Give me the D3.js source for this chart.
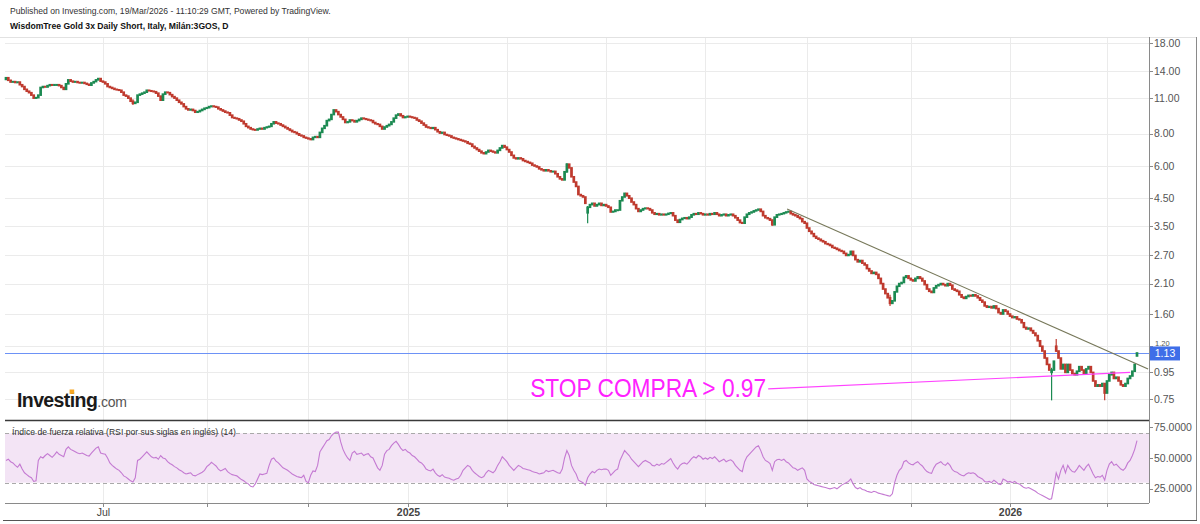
<!DOCTYPE html>
<html><head><meta charset="utf-8">
<script src="https://cdn.jsdelivr.net/npm/d3@7"></script>
<style>body{margin:0;background:#fff}svg{display:block}text{font-family:"Liberation Sans",Arial,sans-serif}</style>
</head><body><svg id="c" width="1200" height="524"></svg>
<script>
// ---------- DATA ----------
const startDate = "2024-05-02";
const endDate = "2026-03-19";
const opens = [
13.0,13.2,12.9,12.7,12.75,12.65,12.7,12.4,12.2,11.9,11.7,11.55,11.3,11.0,11.05,11.3,12.1,12.2,12.15,12.3,12.4,12.35,
12.4,12.4,12.3,12.1,11.9,12.5,12.95,12.8,12.7,12.75,12.65,12.6,12.65,12.55,12.45,12.35,12.6,12.75,12.95,13.1,
12.8,12.7,12.5,12.2,12.1,12.0,11.9,11.85,11.8,11.6,11.3,11.2,11.0,10.7,10.5,10.6,11.3,11.4,11.5,11.6,11.8,11.75,11.7,
11.65,11.5,11.2,10.8,11.4,11.6,11.55,11.35,11.15,11.0,10.8,10.6,10.45,10.2,10.0,9.9,9.95,9.85,9.7,9.75,9.85,9.95,
10.05,10.1,10.2,10.25,10.2,10.15,10.0,9.9,9.8,9.7,9.65,9.45,9.25,9.2,9.15,9.05,8.95,8.75,8.55,8.45,8.35,
8.3,8.28,8.35,8.4,8.35,8.45,8.5,8.55,8.75,8.9,8.8,8.75,8.65,8.55,8.45,8.35,8.25,8.15,8.1,8.0,7.9,7.85,7.75,
7.7,7.65,7.6,7.75,7.8,7.75,8.1,8.4,8.6,9.0,9.1,9.5,9.9,9.75,9.5,9.3,9.1,8.85,8.9,9.05,9.0,
8.9,9.0,9.1,9.2,9.15,9.1,9.05,9.0,8.85,8.75,8.7,8.55,8.35,8.5,8.6,8.7,8.9,9.2,9.45,9.55,9.4,9.25,
9.3,9.35,9.3,9.25,9.2,9.05,8.95,8.8,8.65,8.5,8.45,8.4,8.45,8.3,8.15,8.05,8.1,7.95,7.9,7.85,7.75,7.7,7.65,
7.6,7.55,7.5,7.45,7.35,7.3,7.15,7.05,6.95,6.85,6.75,6.7,6.8,6.9,6.85,6.8,6.75,6.9,7.05,7.2,
7.1,6.95,6.8,6.6,6.45,6.4,6.45,6.4,6.3,6.25,6.2,6.15,6.05,6.0,5.95,5.85,5.8,5.75,5.8,5.75,5.7,
5.72,5.6,5.45,5.35,5.3,5.7,6.1,5.9,5.45,5.2,5.0,4.65,4.6,4.55,3.95,4.15,4.25,4.3,4.2,4.25,4.3,4.22,
4.25,4.2,4.15,3.98,4.0,4.05,4.05,4.4,4.55,4.7,4.6,4.5,4.35,4.25,4.1,4.0,4.05,4.1,4.12,4.1,4.05,3.95,
3.9,3.92,3.88,3.9,3.88,3.9,3.93,3.95,3.85,3.7,3.63,3.72,3.76,3.78,3.75,3.8,3.88,3.92,3.9,3.95,3.92,
3.88,3.9,3.88,3.92,3.9,3.95,3.9,3.85,3.88,3.9,3.85,3.88,3.9,3.85,3.78,3.7,3.62,3.6,3.8,3.9,3.95,3.98,4.02,
4.05,4.08,4.0,3.85,3.78,3.75,3.7,3.55,3.8,3.88,3.9,3.92,3.95,3.98,4.0,3.92,3.88,3.85,3.8,3.75,3.65,
3.6,3.45,3.35,3.28,3.2,3.15,3.12,3.08,3.05,3.0,2.98,2.95,2.9,2.88,2.85,2.82,2.8,2.75,2.7,2.72,2.8,2.7,
2.6,2.55,2.58,2.52,2.48,2.4,2.35,2.3,2.32,2.28,2.2,2.1,2.0,1.92,1.85,1.76,1.8,1.95,2.05,2.1,2.12,2.22,2.25,
2.2,2.17,2.15,2.2,2.23,2.2,2.15,2.08,2.0,1.96,1.94,2.02,2.06,2.08,2.1,2.08,2.06,2.1,2.07,2.0,
1.98,1.96,1.9,1.86,1.84,1.87,1.89,1.88,1.9,1.88,1.85,1.81,1.78,1.72,1.7,1.71,1.69,1.72,1.68,1.62,1.6,1.66,1.64,
1.6,1.57,1.55,1.56,1.53,1.52,1.48,1.42,1.4,1.41,1.38,1.35,1.32,1.26,1.2,1.15,1.08,1.02,0.95,0.97,1.2,1.15,
1.08,0.98,1.02,0.95,1.02,0.97,0.94,0.93,0.96,1.0,0.97,0.94,0.98,1.0,0.95,0.88,0.84,0.85,0.84,0.86,
0.79,0.88,0.93,0.95,0.9,0.91,0.88,0.85,0.84,0.86,0.9,0.92,0.96,1.1];
const closes = [
13.2,12.9,12.7,12.75,12.65,12.7,12.4,12.2,11.9,11.7,11.55,11.3,11.0,11.05,11.3,12.1,12.2,12.15,12.3,12.4,12.35,12.4,
12.4,12.3,12.1,11.9,12.5,12.95,12.8,12.7,12.75,12.65,12.6,12.65,12.55,12.45,12.35,12.6,12.75,12.95,13.1,12.8,
12.7,12.5,12.2,12.1,12.0,11.9,11.85,11.8,11.6,11.3,11.2,11.0,10.7,10.5,10.6,11.3,11.4,11.5,11.6,11.8,11.75,11.7,11.65,
11.5,11.2,10.8,11.4,11.6,11.55,11.35,11.15,11.0,10.8,10.6,10.45,10.2,10.0,9.9,9.95,9.85,9.7,9.75,9.85,9.95,10.05,
10.1,10.2,10.25,10.2,10.15,10.0,9.9,9.8,9.7,9.65,9.45,9.25,9.2,9.15,9.05,8.95,8.75,8.55,8.45,8.35,8.3,
8.28,8.35,8.4,8.35,8.45,8.5,8.55,8.75,8.9,8.8,8.75,8.65,8.55,8.45,8.35,8.25,8.15,8.1,8.0,7.9,7.85,7.75,7.7,
7.65,7.6,7.75,7.8,7.75,8.1,8.4,8.6,9.0,9.1,9.5,9.9,9.75,9.5,9.3,9.1,8.85,8.9,9.05,9.0,8.9,
9.0,9.1,9.2,9.15,9.1,9.05,9.0,8.85,8.75,8.7,8.55,8.35,8.5,8.6,8.7,8.9,9.2,9.45,9.55,9.4,9.25,9.3,
9.35,9.3,9.25,9.2,9.05,8.95,8.8,8.65,8.5,8.45,8.4,8.45,8.3,8.15,8.05,8.1,7.95,7.9,7.85,7.75,7.7,7.65,7.6,
7.55,7.5,7.45,7.35,7.3,7.15,7.05,6.95,6.85,6.75,6.7,6.8,6.9,6.85,6.8,6.75,6.9,7.05,7.2,7.1,
6.95,6.8,6.6,6.45,6.4,6.45,6.4,6.3,6.25,6.2,6.15,6.05,6.0,5.95,5.85,5.8,5.75,5.8,5.75,5.7,5.72,
5.6,5.45,5.35,5.3,5.7,6.1,5.9,5.45,5.2,5.0,4.65,4.6,4.55,4.3,4.15,4.25,4.3,4.2,4.25,4.3,4.22,4.25,
4.2,4.15,3.98,4.0,4.05,4.05,4.4,4.55,4.7,4.6,4.5,4.35,4.25,4.1,4.0,4.05,4.1,4.12,4.1,4.05,3.95,3.9,
3.92,3.88,3.9,3.88,3.9,3.93,3.95,3.85,3.7,3.63,3.72,3.76,3.78,3.75,3.8,3.88,3.92,3.9,3.95,3.92,3.88,
3.9,3.88,3.92,3.9,3.95,3.9,3.85,3.88,3.9,3.85,3.88,3.9,3.85,3.78,3.7,3.62,3.6,3.8,3.9,3.95,3.98,4.02,4.05,
4.08,4.0,3.85,3.78,3.75,3.7,3.55,3.8,3.88,3.9,3.92,3.95,3.98,4.0,3.92,3.88,3.85,3.8,3.75,3.65,3.6,
3.45,3.35,3.28,3.2,3.15,3.12,3.08,3.05,3.0,2.98,2.95,2.9,2.88,2.85,2.82,2.8,2.75,2.7,2.72,2.8,2.7,2.6,
2.55,2.58,2.52,2.48,2.4,2.35,2.3,2.32,2.28,2.2,2.1,2.0,1.92,1.85,1.76,1.8,1.95,2.05,2.1,2.12,2.22,2.25,2.2,
2.17,2.15,2.2,2.23,2.2,2.15,2.08,2.0,1.96,1.94,2.02,2.06,2.08,2.1,2.08,2.06,2.1,2.07,2.0,1.98,
1.96,1.9,1.86,1.84,1.87,1.89,1.88,1.9,1.88,1.85,1.81,1.78,1.72,1.7,1.71,1.69,1.72,1.68,1.62,1.6,1.66,1.64,1.6,
1.57,1.55,1.56,1.53,1.52,1.48,1.42,1.4,1.41,1.38,1.35,1.32,1.26,1.2,1.15,1.08,1.02,0.97,0.97,1.05,1.15,1.08,
0.98,1.02,0.95,1.02,0.97,0.94,0.93,0.96,1.0,0.97,0.94,0.98,1.0,0.95,0.88,0.84,0.85,0.84,0.86,0.79,
0.88,0.93,0.95,0.9,0.91,0.88,0.85,0.84,0.86,0.9,0.92,0.96,1.02,1.13];
// notable wicks: [index, high, low]
const wicks = [[55,10.9,10.35],[243,6.15,5.65],[252,4.2,3.6],[332,3.72,3.52],[383,1.9,1.72],[453,0.99,0.74],[455,1.28,1.14],[476,0.86,0.74]];
const rsi = [
48,49,47,46,44,42.5,45,41,38,36.5,35,34,31,31.5,48,51,50,52,53.5,52,50.5,52.5,
55,53,52,51,57,59,57,56,55,54,53.5,54,53,52,51.5,54,56,58,59,54,
53.5,53,50,46,44,42.5,41,40,38,35.5,34.5,33,31.5,30.5,34,48,49,51,53,55,53,51,50,
50.5,49,52,50,49.5,47,45.5,44.5,43,42,40.5,39.5,38,37,37.5,38,36,35.5,36.5,37.5,38.5,40,
43,44.5,46.5,45,43.5,41,39.5,40.5,41.5,39,37.5,36.5,36,35.5,34,32.5,31.5,30,29,27,26.5,
29,33,37,36.5,37,37.5,44,49,50,47.5,46,44,42,41,40,38.5,37,36,35,34.5,34,36,31,
30,36,39.5,39,44,55,58,61,64,65,68,70,71,71,63,57,53,50,48,54,55.5,
53,53.5,54,52,53,53.5,51,50,46,42,40,44,53,56,57,60,62,63.5,61,58,56,57,
55,54,52,51,49,47,46,44,41,40,39.5,41,38,36,35,36.5,34.5,34,33.5,32.5,32,33,33.5,
36,40,42,44,43,40,38,36.5,35,34,35,38,40,39,38,40,44,47,51,49,
47,44,42,40,42,44,43,41.5,41,40.5,40,39,38.5,38,37,37.5,38,40,39,39.5,40,
39,38,37.5,41,50,56,52,44,40,37,32,31,30,28,34,37,39,38,40,41,40.5,41,
41,40,36,38,40,41,48,52,56,54,52,49,47,45,43,45,47,48,47,46,44,43.5,
45,44,45.5,45,46.5,48,49.5,46,43,41,44,45.5,46,45,47,49.5,51,50,52,51,49,
50,49,50.5,49.5,51,49,47,48,49,47,48,48.5,47,44,42,40,39,47,51,53,55,57,59,
60,56,51,48,47,45.5,40,47,48.5,49,48,49,47,46,44,42,41.5,40,41,42,40,
33,31,30,28.5,28,27.5,27,26.5,26,25.5,25,25.5,26,25,26.5,28,29,30,31,33,29,26,
25,26,24.5,24,23,22.5,22,23,22.5,21.5,21,20.5,20,19.5,19,21,30,36,40,42,47,48,46,
45,44.5,46,47,45,43.5,41,39,38,37.5,42,45,46,47,45,44,46,44,40.5,39,
38.5,37,36,35.5,37,38,37.5,38,37,35,34,33,31,30.5,31,30,32,30.5,29,28.5,33,32,30.5,
31,30,31,29.5,29,27.5,26,25.5,26,25,24,23,21.5,20.5,19.5,18.5,17.5,16.5,17,27,38,33,
40,44,38,44,41,39,38.5,41,44,42,40,43,45,41,37,34,35,34.5,36,32,
40,45,47,44,45,43,41,40,42,46,48,52,57,64];
const priceTicks = [18,14,11,8,6,4.5,3.5,2.7,2.1,1.6,1.2,0.95,0.75];
const rsiTicks = [75,50,25];
const rsiBand = [30,70];
const monthTicks = ["2024-07","2024-09","2024-11","2025-01","2025-03","2025-05","2025-07","2025-09","2025-11","2026-01","2026-03"];
const monthLabels = {"2024-07":"Jul","2025-01":"2025","2026-01":"2026"};
const lastPrice = 1.13;
const trendLine = [[338.4,4.09],[494.8,0.98]];
const stopLine = [[330.2,0.82],[487,0.95]];
const stopText = "STOP COMPRA > 0.97";
const header1 = "Published on Investing.com, 19/Mar/2026 - 11:10:29 GMT, Powered by TradingView.";
const header2 = "WisdomTree Gold 3x Daily Short, Italy, Milán:3GOS, D";
const rsiTitle = "Índice de fuerza relativa (RSI por sus siglas en inglés) (14)";

// ---------- BUILD ----------
const parse = d3.timeParse("%Y-%m-%d");
const dates = [];
for (let d = parse(startDate); d <= parse(endDate); d = d3.timeDay.offset(d, 1)) {
  const wd = d.getDay(); if (wd !== 0 && wd !== 6) dates.push(new Date(d));
}
const N = closes.length;
const data = closes.map((c, i) => ({i, date: dates[i], o: opens[i], c, h: Math.max(opens[i], c), l: Math.min(opens[i], c)}));
wicks.forEach(([i, h, l]) => { data[i].h = h; data[i].l = l; });

const L = 5, R = 1149, TOP = 37, MID = 420, BOT = 503;
const svg = d3.select("#c");
svg.append("rect").attr("width",1200).attr("height",524).attr("fill","#fff");

const x = d3.scaleLinear().domain([0, N - 1]).range([6, 1137]);
const y = d3.scaleLog().domain([0.621, 18.99]).range([MID, TOP]);
const yr = d3.scaleLinear().domain([13.5, 80]).range([BOT, MID + 1]);

const fmtM = d3.timeFormat("%Y-%m");
const tickIdx = monthTicks.map(m => ({m, i: dates.findIndex(d => fmtM(d) === m)})).filter(t => t.i >= 0);

// grid
const grid = svg.append("g").attr("stroke", "#ebebeb").attr("stroke-width", 1).attr("shape-rendering","crispEdges");
tickIdx.forEach(t => grid.append("line").attr("x1", Math.round(x(t.i))+0.5).attr("x2", Math.round(x(t.i))+0.5).attr("y1", TOP).attr("y2", BOT));
priceTicks.forEach(v => grid.append("line").attr("x1", L).attr("x2", R).attr("y1", Math.round(y(v))+0.5).attr("y2", Math.round(y(v))+0.5));

// RSI band
svg.append("rect").attr("x", L).attr("width", R - L).attr("y", yr(rsiBand[1])).attr("height", yr(rsiBand[0]) - yr(rsiBand[1])).attr("fill", "#f3e4f5");
rsiBand.forEach(v => svg.append("line").attr("x1", L).attr("x2", R).attr("y1", Math.round(yr(v))+0.5).attr("y2", Math.round(yr(v))+0.5)
  .attr("stroke", "#a9a9a9").attr("stroke-dasharray", "4,3"));

// last price line
svg.append("rect").attr("x", L).attr("width", R - L).attr("y", Math.round(y(lastPrice))).attr("height", 1)
  .attr("fill", "#6d92f6");

// candles
const up = "#1c8a52", dn = "#bf3a2e";
const cg = svg.append("g");
cg.selectAll("line.w").data(data).join("line").attr("class","w")
  .attr("x1", d => x(d.i)).attr("x2", d => x(d.i)).attr("y1", d => y(d.h)).attr("y2", d => y(d.l))
  .attr("stroke", d => d.c >= d.o ? up : dn).attr("stroke-width", 1.2);
cg.selectAll("rect").data(data).join("rect")
  .attr("x", d => x(d.i) - 1.35).attr("width", 2.7)
  .attr("y", d => Math.min(y(d.o), y(d.c)) - 0.8)
  .attr("height", d => Math.max(2, Math.abs(y(d.o) - y(d.c)) + 1.6))
  .attr("fill", d => d.c >= d.o ? up : dn);

// trend line & stop line
svg.append("line").attr("x1", x(trendLine[0][0])).attr("y1", y(trendLine[0][1])).attr("x2", x(trendLine[1][0])).attr("y2", y(trendLine[1][1]))
  .attr("stroke", "#77785a").attr("stroke-width", 1.1);
svg.append("line").attr("x1", x(stopLine[0][0])).attr("y1", y(stopLine[0][1])).attr("x2", x(stopLine[1][0])).attr("y2", y(stopLine[1][1]))
  .attr("stroke", "#ff44ff").attr("stroke-width", 1.1);
svg.append("text").attr("x", x(stopLine[0][0]) - 2).attr("y", y(stopLine[0][1]) + 8).attr("text-anchor", "end")
  .attr("font-size", 25).attr("fill", "#ff22ff").attr("textLength", 236).attr("lengthAdjust", "spacingAndGlyphs").text(stopText);

// RSI line
svg.append("path").datum(rsi).attr("fill", "none").attr("stroke", "#c47ad2").attr("stroke-width", 1.1)
  .attr("d", d3.line().x((d, i) => x(i)).y(d => yr(d)));

// separators / frame
svg.append("line").attr("x1", L).attr("x2", R).attr("y1", MID+0.5).attr("y2", MID+0.5).attr("stroke", "#3a3a3a").attr("stroke-width", 1.5);
svg.append("line").attr("x1", 0).attr("x2", 1196).attr("y1", TOP+0.5).attr("y2", TOP+0.5).attr("stroke", "#e2e2e2");
svg.append("line").attr("x1", R+0.5).attr("x2", R+0.5).attr("y1", TOP).attr("y2", BOT).attr("stroke", "#8a8a8a");
svg.append("line").attr("x1", L).attr("x2", R).attr("y1", BOT+0.5).attr("y2", BOT+0.5).attr("stroke", "#8a8a8a");
svg.append("line").attr("x1", 1196.5).attr("x2", 1196.5).attr("y1", TOP).attr("y2", 521).attr("stroke", "#8a8a8a");
svg.append("line").attr("x1", 3).attr("x2", 1197).attr("y1", 520.5).attr("y2", 520.5).attr("stroke", "#555");

// right price axis
const ax = svg.append("g").attr("font-size", 10.5).attr("fill", "#555");
priceTicks.forEach(v => {
  svg.append("line").attr("x1", R).attr("x2", R + 4).attr("y1", Math.round(y(v))+0.5).attr("y2", Math.round(y(v))+0.5).attr("stroke", "#8a8a8a");
  if (Math.abs(y(v) - y(lastPrice)) > 11)
    ax.append("text").attr("x", R + 5).attr("y", y(v)).attr("dy", "0.35em").text(d3.format(".2f")(v));
  else // partly hidden behind the last-price label in the reference
    ax.append("text").attr("x", R + 6).attr("y", y(lastPrice) - 7).attr("font-size", 7.5).text(d3.format(".2f")(v));
});
rsiTicks.forEach(v => {
  svg.append("line").attr("x1", R).attr("x2", R + 4).attr("y1", Math.round(yr(v))+0.5).attr("y2", Math.round(yr(v))+0.5).attr("stroke", "#8a8a8a");
  ax.append("text").attr("x", R + 5).attr("y", yr(v)).attr("dy", "0.35em").text(d3.format(".4f")(v));
});
// last price label
const ly = y(lastPrice);
svg.append("rect").attr("x", R + 1).attr("y", ly - 6.5).attr("width", 30).attr("height", 14).attr("fill", "#3f6ee8");
svg.append("text").attr("x", R + 16).attr("y", ly + 0.5).attr("dy", "0.35em").attr("text-anchor", "middle").attr("font-size", 10.5).attr("fill", "#fff").text(d3.format(".2f")(lastPrice));

// x axis
tickIdx.forEach(t => {
  const xx = Math.round(x(t.i)) + 0.5;
  svg.append("line").attr("x1", xx).attr("x2", xx).attr("y1", BOT).attr("y2", BOT + 4).attr("stroke", "#8a8a8a");
  if (monthLabels[t.m]) svg.append("text").attr("x", xx).attr("y", 516).attr("text-anchor", "middle")
    .attr("font-size", 10.5).attr("fill", "#444").attr("font-weight", t.m.endsWith("-01") ? "bold" : "normal").text(monthLabels[t.m]);
});

// header
svg.append("text").attr("x", 10).attr("y", 14).attr("font-size", 8.6).attr("fill", "#333").text(header1);
svg.append("text").attr("x", 10).attr("y", 29).attr("font-size", 8.6).attr("font-weight", "bold").attr("fill", "#111").text(header2);

// RSI title
svg.append("text").attr("x", 12).attr("y", 435).attr("font-size", 8.6).attr("fill", "#333")
  .attr("textLength", 224).attr("lengthAdjust", "spacingAndGlyphs").text(rsiTitle);

// logo
const logo = svg.append("text").attr("x", 17).attr("y", 407).attr("font-size", 19.5).attr("font-weight", "bold").attr("fill", "#1a1a1a").attr("letter-spacing", -0.6);
logo.append("tspan").text("Investing");
logo.append("tspan").attr("font-size", 14).attr("font-weight", "normal").attr("fill", "#555").attr("letter-spacing", -0.2).text(".com");
const ln = logo.node();
const ix = 17 + ln.getSubStringLength(0, 6);
const iw = ln.getSubStringLength(6, 1);
svg.append("rect").attr("x", ix + iw / 2 - 2.6).attr("y", 389.5).attr("width", 4.6).attr("height", 4.4).attr("fill", "#f5a623");
</script></body></html>
